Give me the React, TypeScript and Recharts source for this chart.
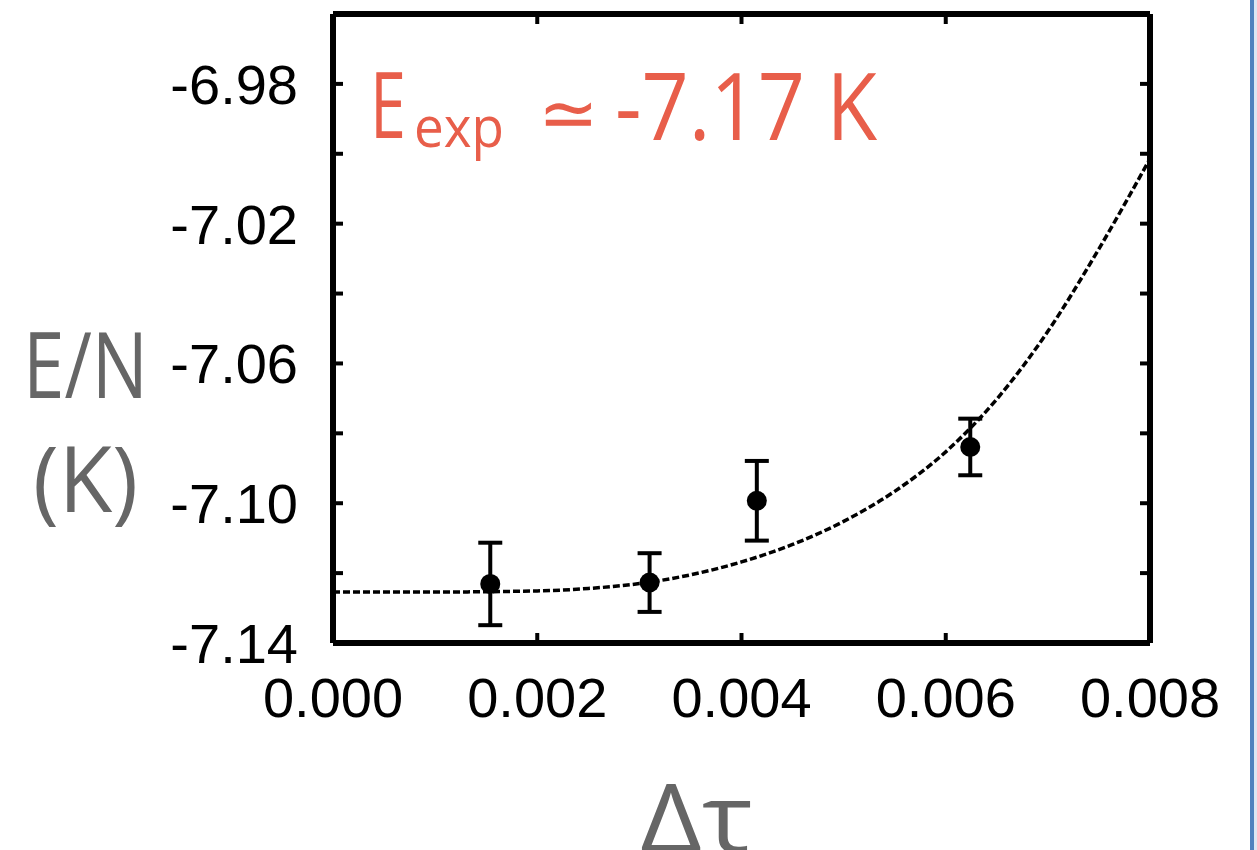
import { ComposedChart, ErrorBar, Line, Scatter, XAxis, YAxis } from "recharts"

// axis ticks (labels only on every other y tick)
const X_TICKS = [0, 0.002, 0.004, 0.006, 0.008]
const X_LABELS = ["0.000", "0.002", "0.004", "0.006", "0.008"]
const Y_TICKS = [-7.14, -7.12, -7.1, -7.08, -7.06, -7.04, -7.02, -7.0, -6.98, -6.96]
const Y_LABELS = ["-7.14", "", "-7.10", "", "-7.06", "", "-7.02", "", "-6.98", ""]

// measured points with error bars
const DTAU = [0.00154, 0.0031, 0.00415, 0.00624]
const ENERGY = [-7.1231, -7.1227, -7.0993, -7.0839]
const ENERGY_ERR = [0.0118, 0.0084, 0.0114, 0.0081]

// dashed fit curve
const FIT_DTAU = [0, 0.001, 0.002, 0.0025, 0.003, 0.0035, 0.004, 0.0045, 0.005, 0.0055, 0.006, 0.0065, 0.007, 0.0075, 0.008]
const FIT_ENERGY = [-7.1254, -7.1254, -7.1251, -7.1244, -7.123, -7.1205, -7.1168, -7.1118, -7.1052, -7.0966, -7.0853, -7.0702, -7.0508, -7.0272, -7.0014]

const points = DTAU.map((x, i) => ({ x, y: ENERGY[i], err: ENERGY_ERR[i] }))
const fit = FIT_DTAU.map((x, i) => ({ x, y: FIT_ENERGY[i] }))

const X_DOMAIN: [number, number] = [0, 0.008]
const Y_DOMAIN: [number, number] = [-7.14, -6.96]

const GRAY = "#666666"
const RED = "#E85E4A"
const tickFont = { fontSize: 56, fill: "#000", fontFamily: "Liberation Sans, Arial, sans-serif" }
const frame = { stroke: "#000", strokeWidth: 6 }
const tickLine = { stroke: "#000", strokeWidth: 4 }

function Dot(props: { cx?: number; cy?: number }) {
  return <circle cx={props.cx} cy={props.cy} r={10} fill="#000" />
}

export default function App() {
  return (
    <div style={{ position: "fixed", left: 0, top: 0, width: 1257, height: 850, background: "#fff", overflow: "hidden" }}>
      <ComposedChart
        width={1257}
        height={850}
        margin={{ top: 13, right: 106, bottom: 0, left: 0 }}
      >
        <XAxis
          dataKey="x"
          type="number"
          domain={X_DOMAIN}
          ticks={X_TICKS}
          interval={0}
          height={207}
          stroke="#000"
          strokeWidth={6}
          axisLine={frame}
          tickLine={tickLine}
          tickSize={-10}
          tickMargin={44}
          tick={tickFont}
          tickFormatter={(_v: number, i: number) => X_LABELS[i]}
        />
        <XAxis
          xAxisId="top"
          dataKey="x"
          orientation="top"
          type="number"
          domain={X_DOMAIN}
          ticks={X_TICKS}
          interval={0}
          height={1}
          stroke="#000"
          strokeWidth={6}
          axisLine={frame}
          tickLine={tickLine}
          tickSize={-10}
          tickFormatter={() => ""}
        />
        <YAxis
          type="number"
          domain={Y_DOMAIN}
          ticks={Y_TICKS}
          interval={0}
          width={333}
          stroke="#000"
          strokeWidth={6}
          axisLine={frame}
          tickLine={tickLine}
          tickSize={-10}
          tickMargin={45}
          tick={tickFont}
          tickFormatter={(_v: number, i: number) => Y_LABELS[i]}
        />
        <YAxis
          yAxisId="right"
          orientation="right"
          type="number"
          domain={Y_DOMAIN}
          ticks={Y_TICKS}
          interval={0}
          width={1}
          stroke="#000"
          strokeWidth={6}
          axisLine={frame}
          tickLine={tickLine}
          tickSize={-10}
          tickFormatter={() => ""}
        />
        {/* invisible copy of the fit so the top/right frame axes get drawn */}
        <Line
          data={fit}
          dataKey="y"
          xAxisId="top"
          yAxisId="right"
          stroke="none"
          dot={false}
          activeDot={false}
          isAnimationActive={false}
        />
        <Line
          data={fit}
          dataKey="y"
          type="monotone"
          stroke="#000"
          strokeWidth={3.5}
          strokeDasharray="7 3"
          dot={false}
          isAnimationActive={false}
        />
        <Scatter data={points} dataKey="y" shape={<Dot />} isAnimationActive={false}>
          <ErrorBar dataKey="err" direction="y" width={12} stroke="#000" strokeWidth={4} />
        </Scatter>
      </ComposedChart>

      <svg width={1257} height={850} style={{ position: "absolute", left: 0, top: 0, pointerEvents: "none" }}>
        <g fontFamily="Open Sans, sans-serif">
          <text x={370} y={138} fontSize={92} fill={RED} textLength={36} lengthAdjust="spacingAndGlyphs">E</text>
          <text x={414} y={147} fontSize={56} fill={RED} textLength={90} lengthAdjust="spacingAndGlyphs">exp</text>
          <text x={538} y={138} fontSize={72} fill={RED} fontFamily="DejaVu Sans, sans-serif">≃</text>
          <text x={615} y={140} fontSize={94} fill={RED} textLength={262} lengthAdjust="spacingAndGlyphs">-7.17 K</text>
          <text x={23} y={398} fontSize={91} fill={GRAY} textLength={125} lengthAdjust="spacingAndGlyphs">E/N</text>
          <text x={33} y={512} fontSize={91} fill={GRAY} textLength={105} lengthAdjust="spacingAndGlyphs">(K)</text>
          <text x={640} y={852} fontSize={95} fill={GRAY} textLength={113} lengthAdjust="spacingAndGlyphs">Δτ</text>
        </g>
      </svg>

      <div style={{ position: "absolute", left: 1250, top: 0, width: 4, height: 850, background: "#4F81BD" }} />
      <div style={{ position: "absolute", left: 1254, top: 0, width: 3, height: 850, background: "#DCE6F2" }} />
    </div>
  )
}
